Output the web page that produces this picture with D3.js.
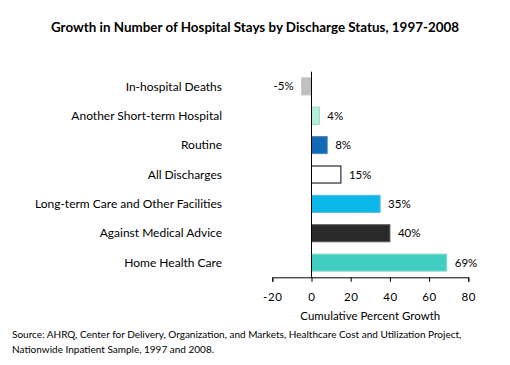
<!DOCTYPE html>
<html><head><meta charset="utf-8">
<script src="https://cdn.jsdelivr.net/npm/d3@7"></script>
<style>
body{margin:0;background:#fff;}
text{font-family:Lato,"Open Sans",sans-serif;fill:#000;}
</style></head>
<body><svg id="c" width="510" height="365"></svg>
<script>
const categories = ["In-hospital Deaths","Another Short-term Hospital","Routine","All Discharges","Long-term Care and Other Facilities","Against Medical Advice","Home Health Care"];
const values = [-5, 4, 8, 15, 35, 40, 69];
const barColors = ["#c0c0c0","#b5eedb","#1469b4","#ffffff","#0cb7e9","#2a2a2a","#40cec0"];
const barStrokes = ["#c0c0c0","#9ad7c4","#4a86b8","#000000","#5ab6d6","#555555","#8ad8cf"];
const xTicks = [-20, 0, 20, 40, 60, 80];

const svg = d3.select("#c");
const x = d3.scaleLinear().domain([-20, 80]).range([272.3, 468.3]);
const y = d3.scaleBand().domain(categories).range([71.7, 277.3]).paddingInner(0.42).paddingOuter(0.21);

svg.append("text").attr("x", 255).attr("y", 32).attr("text-anchor","middle")
  .style("font-size","13.4px").style("font-weight","bold").text("Growth in Number of Hospital Stays by Discharge Status, 1997-2008");

svg.selectAll("rect.bar").data(values).join("rect").attr("class","bar")
  .attr("x", d => x(Math.min(0,d)))
  .attr("y", (d,i) => y(categories[i]))
  .attr("width", d => Math.abs(x(d)-x(0)))
  .attr("height", y.bandwidth())
  .attr("fill", (d,i) => barColors[i])
  .attr("stroke", (d,i) => barStrokes[i])
  .attr("stroke-width", 1);

svg.selectAll("text.val").data(values).join("text").attr("class","val")
  .attr("x", d => d < 0 ? x(d) - 8 : x(d) + 8)
  .attr("y", (d,i) => y(categories[i]) + y.bandwidth()/2)
  .attr("dy","0.35em")
  .attr("text-anchor", d => d < 0 ? "end" : "start")
  .style("font-size","11.5px")
  .text(d => d + "%");

svg.selectAll("text.cat").data(categories).join("text").attr("class","cat")
  .attr("x", 222)
  .attr("y", d => y(d) + y.bandwidth()/2)
  .attr("dy","0.35em")
  .attr("text-anchor","end")
  .style("font-size","12px")
  .text(d => d);

svg.append("line").attr("x1", x(0)).attr("x2", x(0)).attr("y1", 71.7).attr("y2", 277.3)
  .attr("stroke","#000").attr("stroke-width",1);

const xAxis = svg.append("g").attr("transform","translate(0,277.3)")
  .call(d3.axisBottom(x).tickValues(xTicks).tickSize(4.5).tickPadding(11).tickFormat(d => d));
xAxis.select(".domain").attr("stroke","#000");
xAxis.selectAll("text").style("font-size","11.5px").style("font-family","Lato,'Open Sans',sans-serif").style("letter-spacing","0.6px");

svg.append("text").attr("x", x(30)).attr("y", 320).attr("text-anchor","middle")
  .style("font-size","11.5px").text("Cumulative Percent Growth");

svg.append("text").attr("x", 12).attr("y", 338).style("font-size","10px")
  .text("Source:  AHRQ, Center for Delivery, Organization, and Markets, Healthcare Cost and Utilization Project,");
svg.append("text").attr("x", 12).attr("y", 353).style("font-size","10px")
  .text("Nationwide Inpatient Sample, 1997 and 2008.");
</script></body></html>
